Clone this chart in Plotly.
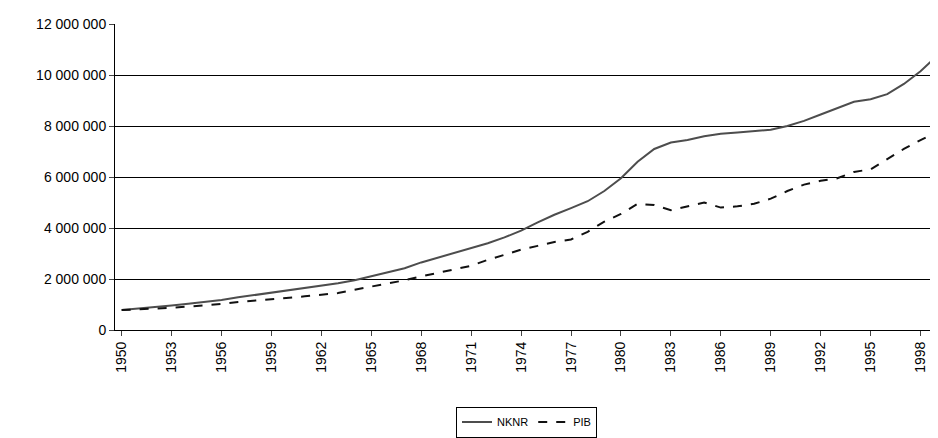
import plotly.graph_objects as go

years = list(range(1950, 2000))
nknr = [0.78, 0.83, 0.89, 0.96, 1.03, 1.10, 1.18, 1.28, 1.37, 1.46, 1.55,
        1.65, 1.74, 1.83, 1.95, 2.10, 2.25, 2.42, 2.65, 2.83, 3.02,
        3.22, 3.40, 3.63, 3.90, 4.22, 4.52, 4.78, 5.05, 5.45, 5.95,
        6.60, 7.10, 7.35, 7.45, 7.60, 7.70, 7.75, 7.80, 7.85, 8.00,
        8.20, 8.45, 8.70, 8.95, 9.05, 9.25, 9.65, 10.15, 10.75]
pib = [0.78, 0.80, 0.84, 0.87, 0.92, 0.97, 1.02, 1.10, 1.15, 1.20, 1.25,
       1.32, 1.38, 1.45, 1.58, 1.70, 1.82, 1.95, 2.10, 2.25, 2.40,
       2.52, 2.75, 2.95, 3.15, 3.30, 3.45, 3.55, 3.85, 4.25, 4.55,
       4.95, 4.90, 4.70, 4.85, 5.00, 4.80, 4.85, 4.95, 5.15, 5.45,
       5.70, 5.85, 5.95, 6.20, 6.30, 6.70, 7.10, 7.45, 7.75]
tick_years = list(range(1950, 2000, 3))
y_ticks = list(range(0, 12000001, 2000000))
y_labels = ["0", "2 000 000", "4 000 000", "6 000 000", "8 000 000", "10 000 000", "12 000 000"]

fig = go.Figure()
fig.add_trace(go.Scatter(x=years, y=[v * 1e6 for v in nknr], name="NKNR", mode="lines",
                         line=dict(color="#4d4d4d", width=2)))
fig.add_trace(go.Scatter(x=years, y=[v * 1e6 for v in pib], name="PIB", mode="lines",
                         line=dict(color="#111111", width=2, dash="dash")))
fig.update_layout(
    width=938, height=438, plot_bgcolor="white", paper_bgcolor="white",
    margin=dict(l=107, r=8, t=12, b=106),
    font=dict(family="Liberation Sans, Arial", size=14, color="black"),
    legend=dict(orientation="h", x=0.5, xanchor="center", y=-0.25, yanchor="top",
                bordercolor="black", borderwidth=1, font=dict(size=11)),
    xaxis=dict(range=[1949.6, 1999.05], tickvals=tick_years, tickangle=-90,
               showgrid=False, showline=True, linecolor="black", ticks="outside",
               ticklen=5, zeroline=False),
    yaxis=dict(range=[0, 12000000], tickvals=y_ticks, ticktext=y_labels,
               showgrid=True, gridcolor="black", gridwidth=1, showline=True,
               linecolor="black", ticks="outside", ticklen=5, zeroline=False),
)
fig.write_html("out.html")
